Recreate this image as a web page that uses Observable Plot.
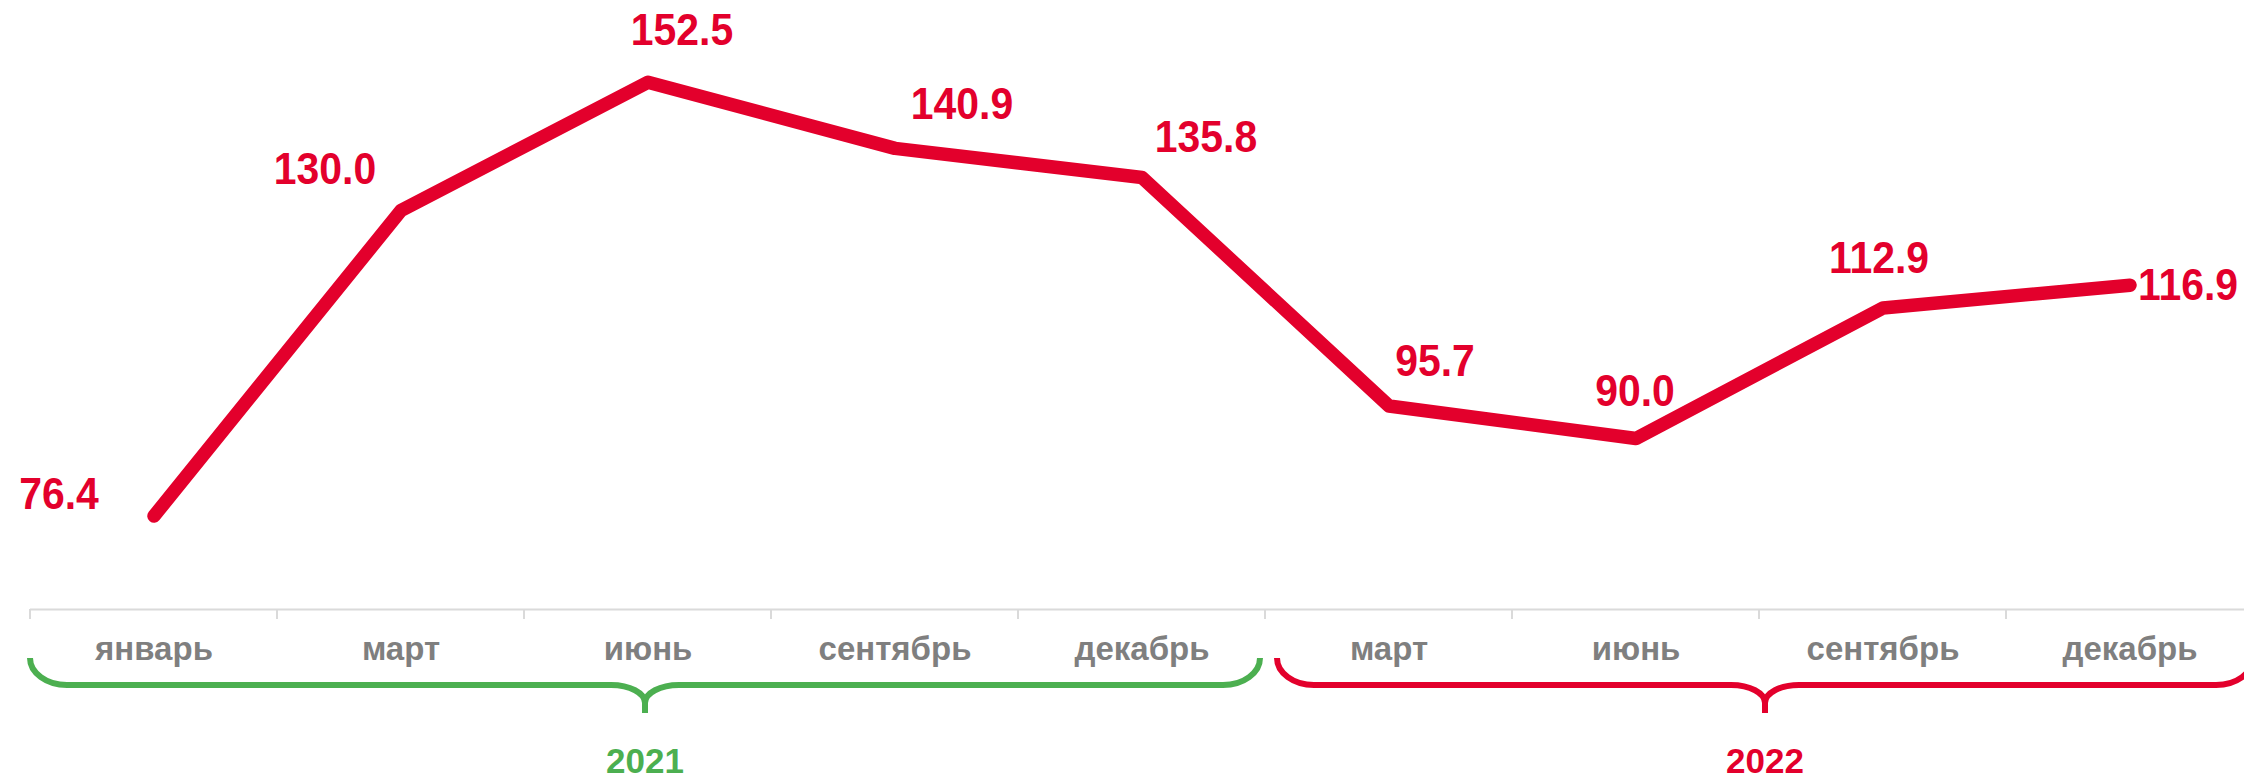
<!DOCTYPE html>
<html>
<head>
<meta charset="utf-8">
<script src="https://cdn.jsdelivr.net/npm/d3@7"></script>
<script src="https://cdn.jsdelivr.net/npm/@observablehq/plot@0.6"></script>
<style>
  html, body { margin: 0; padding: 0; background: #ffffff; }
  #chart svg { display: block; }
</style>
</head>
<body>
<div id="chart"></div>
<script>
// ---- data ----
const periods = ["2021-01", "2021-03", "2021-06", "2021-09", "2021-12", "2022-03", "2022-06", "2022-09", "2022-12"];
const monthLabels = ["январь", "март", "июнь", "сентябрь", "декабрь", "март", "июнь", "сентябрь", "декабрь"];
const values = [76.4, 130.0, 152.5, 140.9, 135.8, 95.7, 90.0, 112.9, 116.9];
const periodYears = ["2021", "2021", "2021", "2021", "2021", "2022", "2022", "2022", "2022"];
const yearNames = ["2021", "2022"];

const data = periods.map((p, i) => ({period: p, month: monthLabels[i], value: values[i], year: periodYears[i]}));
const monthOf = new Map(periods.map((p, i) => [p, monthLabels[i]]));

// ---- style / layout ----
const RED = "#e3002c";
const GREEN = "#4caf50";
const GRAY = "#7f7f7f";
const FONT = "'Liberation Sans', Arial, Helvetica, sans-serif";
const yearColor = {"2021": GREEN, "2022": RED};

// label placement relative to each point (pixels)
const labelPlacement = [
  {dx: -95, dy: -21}, {dx: -76, dy: -41}, {dx: 34, dy: -51}, {dx: 67, dy: -43}, {dx: 64, dy: -40},
  {dx: 46, dy: -44}, {dx: -1, dy: -47}, {dx: -4, dy: -49}, {dx: 8, dy: 1, anchor: "start"}
];

// custom mark: band-boundary ticks, year brackets and year labels
function yearBrackets(index, scales, channels, dimensions) {
  const x = scales.x;
  const bw = x.bandwidth();
  const axisY = dimensions.height - dimensions.marginBottom;
  const g = d3.create("svg:g");
  periods.forEach(p => {
    const xl = x(p);
    g.append("line")
      .attr("x1", xl).attr("x2", xl)
      .attr("y1", axisY).attr("y2", axisY + 10)
      .attr("stroke", "#dadada").attr("stroke-width", 2);
  });
  const yTop = axisY + 49, yMid = axisY + 76, yTip = axisY + 104;
  yearNames.forEach((yr, k) => {
    const ps = periods.filter((p, i) => periodYears[i] === yr);
    let x0 = x(ps[0]);
    let x1 = x(ps[ps.length - 1]) + bw;
    if (k > 0) x0 += 12;
    if (k < yearNames.length - 1) x1 -= 5;
    const cx = (x0 + x1) / 2;
    const rE = 37, rEy = 27, rC = 34, rCy = 18;
    const path =
      `M${x0},${yTop} A${rE},${rEy} 0 0 0 ${x0 + rE},${yMid} L${cx - rC},${yMid} ` +
      `A${rC},${rCy} 0 0 1 ${cx},${yMid + rCy} L${cx},${yTip} ` +
      `M${cx},${yTip} L${cx},${yMid + rCy} A${rC},${rCy} 0 0 1 ${cx + rC},${yMid} ` +
      `L${x1 - rE},${yMid} A${rE},${rEy} 0 0 0 ${x1},${yTop}`;
    g.append("path")
      .attr("d", path)
      .attr("fill", "none")
      .attr("stroke", yearColor[yr])
      .attr("stroke-width", 6)
      .attr("stroke-linejoin", "round");
    g.append("text")
      .attr("x", cx).attr("y", axisY + 164)
      .attr("text-anchor", "middle")
      .attr("fill", yearColor[yr])
      .attr("font-family", FONT)
      .attr("font-weight", "bold")
      .attr("font-size", 35)
      .text(yr);
  });
  return g.node();
}

const valueLabelMarks = labelPlacement.map((o, i) =>
  Plot.text([data[i]], {
    x: "period", y: "value",
    text: d => d.value.toFixed(1),
    dx: o.dx, dy: o.dy,
    textAnchor: o.anchor || "middle",
    lineAnchor: "middle",
    fill: RED, fontSize: 44, fontWeight: "bold"
  })
);

const chart = Plot.plot({
  width: 2244,
  height: 777,
  marginTop: 39,
  marginBottom: 168,
  marginLeft: 30,
  marginRight: 0,
  style: {fontFamily: FONT, background: "#ffffff", overflow: "visible"},
  x: {type: "band", domain: periods, range: [30, 2253], padding: 0, axis: null},
  y: {domain: [60, 160], axis: null},
  marks: [
    Plot.ruleY([60], {stroke: "#dadada", strokeWidth: 2}),
    Plot.axisX({
      label: null,
      tickSize: 0, tickPadding: 27,
      tickFormat: d => monthOf.get(d),
      fontSize: 33, fontWeight: "bold", fill: GRAY
    }),
    yearBrackets,
    Plot.line(data, {
      x: "period", y: "value",
      stroke: RED, strokeWidth: 13.5,
      strokeLinecap: "round", strokeLinejoin: "round"
    }),
    ...valueLabelMarks
  ]
});

document.getElementById("chart").appendChild(chart);

// slightly condensed value labels, as in the original artwork
d3.select(chart).selectAll('g[aria-label="text"] text').each(function () {
  const len = this.getComputedTextLength();
  if (len > 0) {
    this.setAttribute("textLength", (len * 0.93).toFixed(1));
    this.setAttribute("lengthAdjust", "spacingAndGlyphs");
  }
});
</script>
</body>
</html>
